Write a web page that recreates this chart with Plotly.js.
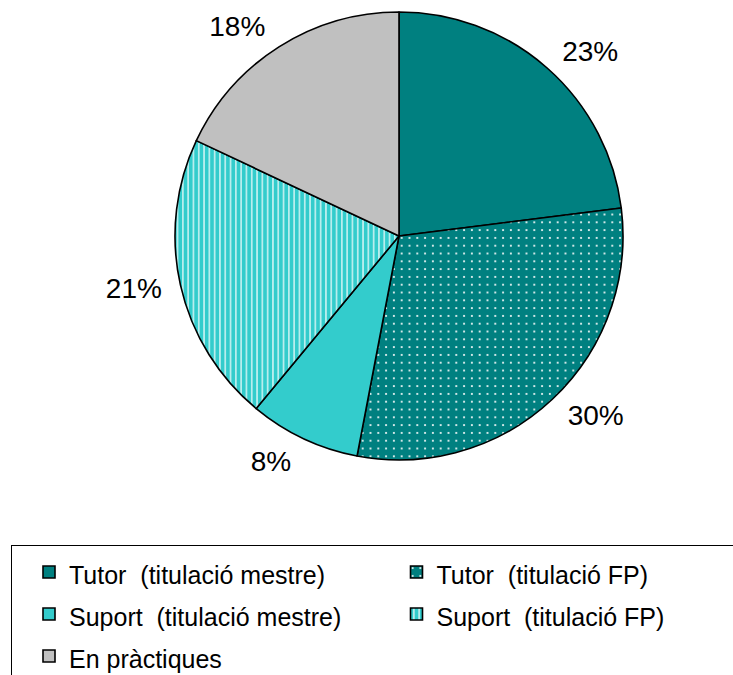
<!DOCTYPE html>
<html>
<head>
<meta charset="utf-8">
<script src="https://cdn.plot.ly/plotly-3.0.1.min.js"></script>
<style>html,body{margin:0;padding:0;background:#fff;overflow:hidden;}#chart{width:733px;height:675px;}</style>
</head>
<body>
<div id="chart"></div>
<script>
// Data
const categories = [
  'Tutor  (titulació mestre)',
  'Tutor  (titulació FP)',
  'Suport  (titulació mestre)',
  'Suport  (titulació FP)',
  'En pràctiques'
];
const shares = [23, 30, 8, 21, 18];
const sliceColors = ['#008080', '#008080', '#33CCCC', '#33CCCC', '#C0C0C0'];
const slicePatterns = ['', '.', '', '|', ''];

const FONT = 'Liberation Sans, Arial, sans-serif';

const legendLabels = categories.map(c =>
  '<span style="font-size:25px">' + c.replace(/  /g, '\u00a0 ') + '</span>'
);

// Main pie (slices + legend)
const pieTrace = {
  type: 'pie',
  labels: legendLabels,
  values: shares,
  sort: false,
  direction: 'clockwise',
  rotation: 0,
  textinfo: 'none',
  hoverinfo: 'none',
  marker: {
    colors: sliceColors,
    line: {color: '#000', width: 1.6},
    pattern: {
      shape: slicePatterns,
      fgcolor: '#ffffff',
      bgcolor: sliceColors,
      size: [8, 7.8, 8, 5.3, 8],
      solidity: [0.2, 0.06, 0.2, 0.22, 0.2],
      fillmode: 'replace'
    }
  },
  domain: {x: [175/733, 623/733], y: [1 - 460/675, 1 - 12/675]}
};

// Transparent companion pie, slightly larger, that carries the outside percent labels
const labelTrace = {
  type: 'pie',
  labels: legendLabels,
  values: shares,
  sort: false,
  direction: 'clockwise',
  rotation: 0,
  showlegend: false,
  textinfo: 'percent',
  textposition: 'outside',
  outsidetextfont: {family: FONT, size: 28, color: '#000'},
  hoverinfo: 'none',
  marker: {
    colors: shares.map(() => 'rgba(0,0,0,0)'),
    line: {width: 0}
  },
  domain: {x: [164/733, 634/733], y: [1 - 471/675, 1 - 1/675]}
};

const layout = {
  width: 733,
  height: 675,
  margin: {l: 0, r: 0, t: 0, b: 0, autoexpand: false},
  paper_bgcolor: '#fff',
  font: {family: FONT, color: '#000'},
  showlegend: true,
  legend: {
    orientation: 'h',
    x: 11/733,
    xanchor: 'left',
    y: 1 - 545/675,
    yanchor: 'top',
    font: {family: FONT, size: 30, color: '#000'},
    bordercolor: '#000',
    borderwidth: 1,
    bgcolor: 'rgba(255,255,255,0)',
    entrywidth: 305.5,
    entrywidthmode: 'pixels',
    indentation: 17
  }
};

Plotly.newPlot('chart', [labelTrace, pieTrace], layout, {displayModeBar: false, staticPlot: true});
</script>
</body>
</html>
